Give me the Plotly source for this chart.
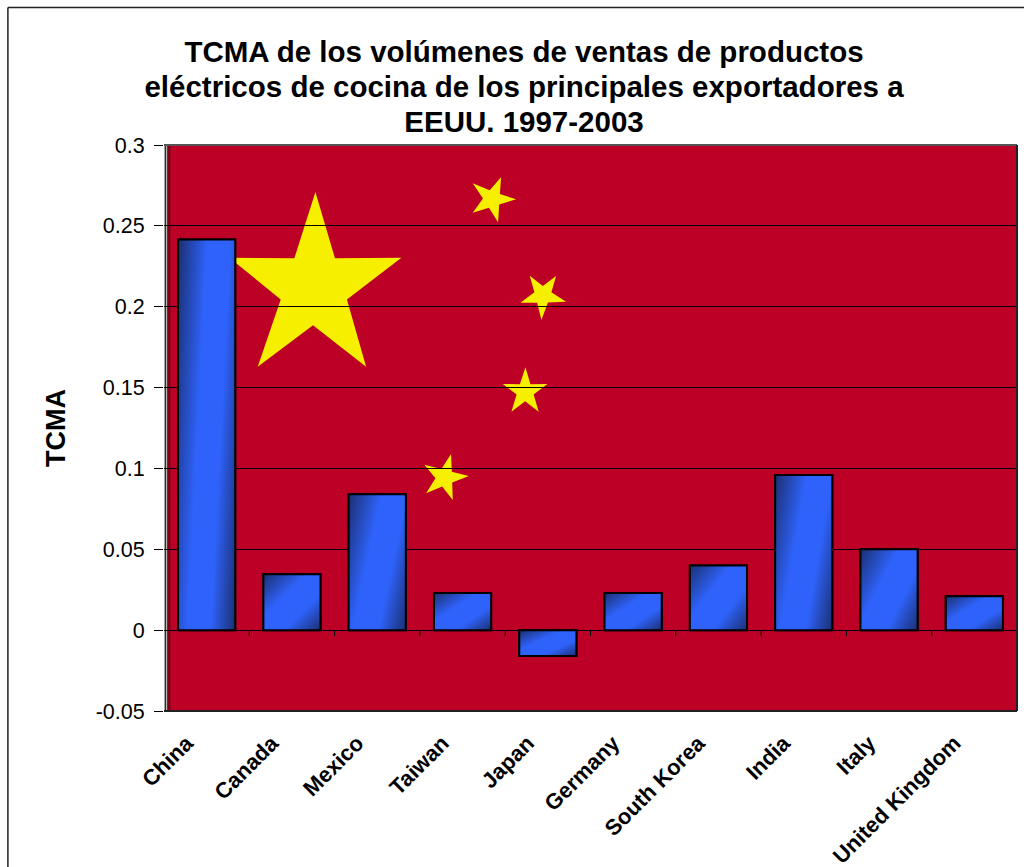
import base64
import plotly.graph_objects as go

categories = ["China", "Canada", "Mexico", "Taiwan", "Japan", "Germany",
              "South Korea", "India", "Italy", "United Kingdom"]
tcma = [0.2415, 0.0345, 0.084, 0.023, -0.016, 0.023, 0.04, 0.096, 0.05, 0.021]
y_ticks = [-0.05, 0, 0.05, 0.1, 0.15, 0.2, 0.25, 0.3]
y_tick_labels = ["-0.05", "0", "0.05", "0.1", "0.15", "0.2", "0.25", "0.3"]

W, H = 1024, 867
L, R, T, B = 163.6, 1016.6, 145, 711
FONT = "Liberation Sans"
RED = "#BC0026"
YEL = "#F6F000"
BW = 0.67

big_star = [(315, 192), (401, 257.7), (365.7, 366.7), (257.3, 366.7), (229, 257.7)]
# small stars: tips in 3x zoom units from (410,170)
small_stars = [
    [(272, 22), (317, 88), (263, 157), (187, 128), (187, 40)],
    [(437, 318), (467, 395), (393, 450), (330, 398), (358, 317)],
    [(345, 592), (411, 642), (385, 725), (303, 725), (277, 642)],
    [(122, 852), (175, 918), (127, 990), (47, 970), (42, 884)],
]


def px(x):
    return (x - L) / (R - L)


def py(y):
    return (B - y) / (B - T)


def star_path(tips, ratio=0.382):
    cx = sum(p[0] for p in tips) / 5
    cy = sum(p[1] for p in tips) / 5
    pts = []
    for i in range(5):
        a, b = tips[i], tips[(i + 1) % 5]
        pts.append(a)
        mx, my = (a[0] + b[0]) / 2, (a[1] + b[1]) / 2
        k = ratio / 0.809
        pts.append((cx + (mx - cx) * k, cy + (my - cy) * k))
    return "M" + " L".join(f"{px(x):.5f},{py(y):.5f}" for x, y in pts) + " Z"


def gradient_uri(i, a):
    b = 1 - a
    n = a * a + b * b
    x2, y2 = 100 * a / n, 100 * b / n
    svg = (
        '<svg xmlns="http://www.w3.org/2000/svg" width="100" height="100" '
        'viewBox="0 0 100 100" preserveAspectRatio="none"><defs>'
        f'<linearGradient id="g{i}" gradientUnits="userSpaceOnUse" x1="0" y1="0" x2="{x2:.2f}" y2="{y2:.2f}">'
        '<stop offset="0" stop-color="#1B2F70"/><stop offset="0.38" stop-color="#2E62FA"/>'
        '<stop offset="0.68" stop-color="#2E62FA"/><stop offset="1" stop-color="#1B2F70"/>'
        f'</linearGradient></defs><rect width="100" height="100" fill="url(#g{i})"/></svg>'
    )
    return "data:image/svg+xml;base64," + base64.b64encode(svg.encode()).decode()


fig = go.Figure()
fig.add_bar(x=list(range(len(categories))), y=tcma, width=BW,
            marker=dict(color="#2E62FA", line=dict(color="black", width=2)),
            showlegend=False)

shapes = []
for tips in [big_star] + [[(410 + x / 3, 170 + y / 3) for x, y in s] for s in small_stars]:
    shapes.append(dict(type="path", path=star_path(tips), xref="paper", yref="paper",
                       fillcolor=YEL, line=dict(width=0), layer="below"))

# plot frame details
shapes += [
    dict(type="rect", xref="paper", yref="paper", x0=0, x1=px(167), y0=0, y1=1,
         fillcolor="#B4B4B4", line=dict(width=0), layer="below"),
    dict(type="rect", xref="paper", yref="paper", x0=px(167), x1=px(170), y0=0, y1=1,
         fillcolor="#7E0018", line=dict(width=0), layer="below"),
    dict(type="line", xref="paper", yref="paper", x0=px(165), x1=px(165), y0=0, y1=1,
         line=dict(color="#222222", width=1), layer="below"),
    dict(type="line", xref="paper", yref="paper", x0=0, x1=1, y0=1, y1=1,
         line=dict(color="#555555", width=2)),
    dict(type="line", xref="paper", yref="paper", x0=1, x1=1, y0=0, y1=1,
         line=dict(color="#222222", width=2)),
    dict(type="line", xref="paper", yref="paper", x0=0, x1=1, y0=0, y1=0,
         line=dict(color="#222222", width=2)),
    dict(type="line", xref="paper", yref="paper", x0=px(7.5), x1=px(1024), y0=py(7.5), y1=py(7.5),
         line=dict(color="#222222", width=1.5)),
    dict(type="line", xref="paper", yref="paper", x0=px(7.5), x1=px(7.5), y0=py(7.5), y1=py(867),
         line=dict(color="#222222", width=1.5)),
]

images = []
for i, v in enumerate(tcma):
    h = abs(v) * 1620
    w = 57
    a = 0.5 + 0.28 * max(0, h - w) / h
    images.append(dict(source=gradient_uri(i, a), xref="x", yref="y",
                       x=i - BW / 2, y=max(v, 0), sizex=BW, sizey=abs(v),
                       xanchor="left", yanchor="top", sizing="stretch", layer="above"))
    shapes.append(dict(type="rect", xref="x", yref="y", x0=i - BW / 2, x1=i + BW / 2, y0=0, y1=v,
                       line=dict(color="black", width=2), layer="above"))
    if i < len(tcma) - 1:
        shapes.append(dict(type="line", xref="x", yref="y", x0=i + 0.5, x1=i + 0.5, y0=0, y1=-0.0037,
                           line=dict(color="black", width=1)))

fig.update_layout(
    width=W, height=H, autosize=False,
    margin=dict(l=L, r=W - R, t=T, b=H - B, pad=0, autoexpand=False),
    paper_bgcolor="white", plot_bgcolor=RED,
    font=dict(family=FONT, color="black", size=20),
    title=dict(
        text="<span style='font-size:29.5px'><b>TCMA de los volúmenes de ventas de productos<br>"
             "eléctricos de cocina de los principales exportadores a<br>EEUU. 1997-2003</b></span>",
        x=(524) / W, xanchor="center", y=1 - 62 / H, yanchor="top",
        font=dict(family=FONT, size=27, color="black")),
    xaxis=dict(range=[-0.5, 9.5], tickmode="array", tickvals=list(range(len(categories))),
               ticktext=[f"<b>{c}</b>" for c in categories], tickangle=-45, ticks="",
               showgrid=False, zeroline=False, showline=False, automargin=False,
               tickfont=dict(family=FONT, size=22), ticklabelstandoff=14, ticklabelshift=-20),
    yaxis=dict(range=[-0.05, 0.3], tickmode="array", tickvals=y_ticks, ticktext=y_tick_labels,
               ticks="outside", ticklen=9, tickcolor="black", tickwidth=1,
               showgrid=True, gridcolor="black", gridwidth=1,
               zeroline=True, zerolinecolor="black", zerolinewidth=1,
               showline=False, ticklabelstandoff=5, automargin=False,
               tickfont=dict(family=FONT, size=21.5),
               title=dict(text="<b>TCMA</b>", font=dict(family=FONT, size=27), standoff=22)),
    shapes=shapes, images=images, showlegend=False,
)

fig.write_html("out.html", config={"displayModeBar": False},
               post_script="document.body.style.margin='0';document.body.style.overflow='hidden';")
